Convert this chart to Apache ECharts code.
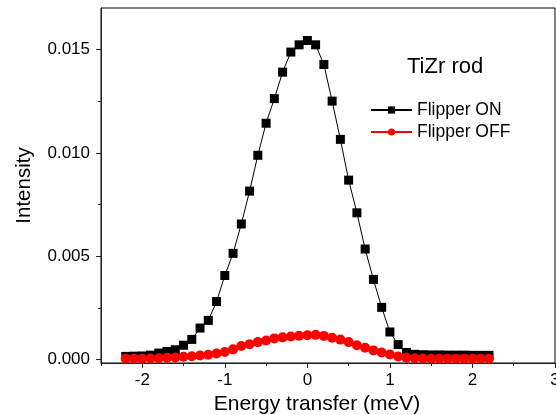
<!DOCTYPE html>
<html>
<head>
<meta charset="utf-8">
<script src="https://cdn.jsdelivr.net/npm/echarts@6/dist/echarts.min.js"></script>
<style>
  html, body { margin: 0; padding: 0; background: #fff; }
  #chart { width: 556px; height: 415px; }
</style>
</head>
<body>
<div id="chart"></div>
<script>
// Energy transfer grid (meV)
const energy = [
  -2.2, -2.1, -2.0, -1.9, -1.8, -1.7, -1.6, -1.5, -1.4, -1.3, -1.2, -1.1,
  -1.0, -0.9, -0.8, -0.7, -0.6, -0.5, -0.4, -0.3, -0.2, -0.1,
  0.0, 0.1, 0.2, 0.3, 0.4, 0.5, 0.6, 0.7, 0.8, 0.9, 1.0,
  1.1, 1.2, 1.3, 1.4, 1.5, 1.6, 1.7, 1.8, 1.9, 2.0, 2.1, 2.2
];

// Measured intensity, spin flipper on
const flipperOn = [
  0.00016, 0.00017, 0.00018, 0.00022, 0.00032, 0.00040, 0.00048, 0.00070, 0.00098, 0.00153, 0.00190, 0.00281,
  0.00407, 0.00514, 0.00656, 0.00815, 0.00988, 0.01143, 0.01262, 0.01390, 0.01487, 0.01522,
  0.01543, 0.01522, 0.01427, 0.01250, 0.01065, 0.00868, 0.00710, 0.00535, 0.00388, 0.00253, 0.00134,
  0.00073, 0.00035, 0.00026, 0.00024, 0.00023, 0.00023, 0.00022, 0.00022, 0.00022, 0.00021, 0.00021, 0.00021
];

// Measured intensity, spin flipper off
const flipperOff = [
  0.00005, 0.00005, 0.00005, 0.00006, 0.00007, 0.00009, 0.00011, 0.00014, 0.00017, 0.00020, 0.00024, 0.00030,
  0.00037, 0.00050, 0.00066, 0.00075, 0.00085, 0.00093, 0.00103, 0.00108, 0.00112, 0.00116,
  0.00118, 0.00120, 0.00115, 0.00106, 0.00097, 0.00085, 0.00070, 0.00058, 0.00045, 0.00035, 0.00025,
  0.00015, 0.00009, 0.00007, 0.00006, 0.00005, 0.00005, 0.00005, 0.00005, 0.00005, 0.00005, 0.00005, 0.00005
];

// Axis tick positions
const xMajorTicks = [-2, -1, 0, 1, 2, 3];
const xMinorTicks = [-2.5, -1.5, -0.5, 0.5, 1.5, 2.5];
const yMajorTicks = [0, 0.005, 0.010, 0.015];
const yMinorTicks = [0.0025, 0.0075, 0.0125];

const FONT = "'Liberation Sans', Arial, sans-serif";
const X_MIN = -2.5, X_MAX = 3;
const Y_MIN = -0.00016, Y_MAX = 0.017;

const axisColor = '#222';

const chart = echarts.init(document.getElementById('chart'), null, { renderer: 'canvas' });

chart.setOption({
  backgroundColor: '#fff',
  animation: false,
  title: {
    text: 'TiZr rod',
    left: 407,
    top: 56,
    padding: 0,
    textStyle: { fontFamily: FONT, fontSize: 22, fontWeight: 'normal', color: '#000' }
  },
  legend: {
    orient: 'vertical',
    left: 370,
    top: 100,
    padding: 0,
    itemWidth: 41,
    itemHeight: 9,
    itemGap: 2,
    textStyle: { fontFamily: FONT, fontSize: 17.5, color: '#000', lineHeight: 20 },
    data: ['Flipper ON', 'Flipper OFF']
  },
  grid: {
    left: 101, right: 1, top: 8, bottom: 52,
    show: true, borderColor: '#000', borderWidth: 1,
    containLabel: false,
    outerBoundsMode: 'none'
  },
  xAxis: [
    {
      type: 'value', min: X_MIN, max: X_MAX, position: 'bottom',
      name: 'Energy transfer (meV)',
      nameLocation: 'middle',
      nameGap: 31,
      nameTextStyle: { fontFamily: FONT, fontSize: 21, color: '#000', padding: [0, 22, 0, 0] },
      axisLine: { show: true, onZero: false, lineStyle: { color: axisColor, width: 1 } },
      axisTick: { show: true, inside: false, length: 5, customValues: xMajorTicks, lineStyle: { color: axisColor } },
      axisLabel: {
        customValues: xMajorTicks, margin: 9,
        fontFamily: FONT, fontSize: 17, color: '#000',
        formatter: v => String(v)
      },
      splitLine: { show: false }
    },
    {
      type: 'value', min: X_MIN, max: X_MAX, position: 'bottom',
      axisLine: { show: false, onZero: false },
      axisTick: { show: true, inside: false, length: 3, customValues: xMinorTicks, lineStyle: { color: axisColor } },
      axisLabel: { show: false },
      splitLine: { show: false }
    }
  ],
  yAxis: [
    {
      type: 'value', min: Y_MIN, max: Y_MAX, position: 'left',
      name: 'Intensity',
      nameLocation: 'middle',
      nameGap: 66,
      nameTextStyle: { fontFamily: FONT, fontSize: 20.5, color: '#000' },
      axisLine: { show: true, onZero: false, lineStyle: { color: axisColor, width: 1 } },
      axisTick: { show: true, inside: false, length: 5, customValues: yMajorTicks, lineStyle: { color: axisColor } },
      axisLabel: {
        customValues: yMajorTicks, margin: 11,
        fontFamily: FONT, fontSize: 17, color: '#000',
        formatter: v => v.toFixed(3)
      },
      splitLine: { show: false }
    },
    {
      type: 'value', min: Y_MIN, max: Y_MAX, position: 'left',
      axisLine: { show: false, onZero: false },
      axisTick: { show: true, inside: false, length: 3, customValues: yMinorTicks, lineStyle: { color: axisColor } },
      axisLabel: { show: false },
      splitLine: { show: false }
    }
  ],
  series: [
    {
      name: 'Flipper ON',
      type: 'line',
      data: energy.map((e, i) => [e, flipperOn[i]]),
      symbol: 'rect',
      symbolSize: 9,
      showAllSymbol: true,
      itemStyle: { color: '#000' },
      lineStyle: { color: '#000', width: 1 },
      z: 2
    },
    {
      name: 'Flipper OFF',
      type: 'line',
      data: energy.map((e, i) => [e, flipperOff[i]]),
      symbol: 'circle',
      symbolSize: 10,
      showAllSymbol: true,
      itemStyle: { color: '#ff0000' },
      lineStyle: { color: '#ff0000', width: 1 },
      z: 3
    }
  ]
});
</script>
</body>
</html>
